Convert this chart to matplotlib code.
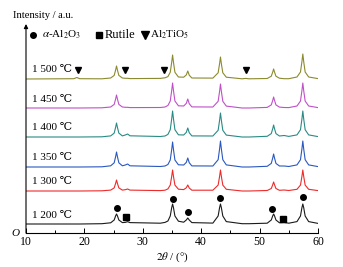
import matplotlib.pyplot as plt
import numpy as np

plt.rcParams['font.family'] = ['Liberation Serif', 'DejaVu Serif']
plt.rcParams['mathtext.fontset'] = 'stix'

# 2theta sample points (deg)
two_theta = [10.0, 18.2, 18.7, 19.2, 23.0,
             24.5, 25.1, 25.35, 25.5, 25.65, 25.9, 26.5, 27.0, 27.4, 27.8,
             33.0, 33.8, 34.3, 34.7, 34.95, 35.1, 35.25, 35.5, 36.1,
             37.0, 37.45, 37.7, 37.95, 38.4,
             42.0, 42.9, 43.15, 43.3, 43.45, 43.7, 44.3,
             47.0, 47.6, 48.2,
             51.3, 52.0, 52.25, 52.4, 52.55, 52.8, 53.4, 54.2, 55.0,
             56.4, 57.0, 57.25, 57.4, 57.55, 57.8, 58.4, 60.0]

# intensities (a.u.)
i_1200 = [0, 0, 0, 0, 0.3,
          1.2, 4, 8.2, 10, 8.2, 4, 1.4, 1.6, 2.3, 1.4,
          0.8, 1.6, 3, 8, 16.4, 20, 16.4, 8, 2.8,
          1.8, 4, 6, 4, 1.4,
          0.9, 8, 16.4, 20, 16.4, 8, 2.4,
          0.3, 0.3, 0.3,
          0.8, 4, 8.2, 10, 8.2, 4, 1.2, 1.5, 0.8,
          2.4, 8, 16.4, 20, 16.4, 8, 2.4, 0.6]
i_1300 = [0, 0, 0, 0, 0.2,
          0.9, 3.1, 7.7, 11, 7.7, 3.1, 0.9, 1.3, 2, 0.9,
          0.4, 0.8, 2.1, 5.9, 14.7, 21, 14.7, 5.9, 1.8,
          1.4, 3.2, 6, 3.0, 0.8,
          0.8, 5.9, 14.7, 21, 14.7, 5.9, 1.7,
          0, 0, 0,
          0.5, 2.5, 6.3, 9, 6.3, 2.5, 0.7, 1, 0.5,
          1.7, 5.9, 14.7, 21, 14.7, 5.9, 1.7, 0.4]
i_1350 = [0, 0, 0, 0, 0.2,
          1.2, 4.2, 10.5, 15, 10.5, 4.2, 1.2, 2, 3, 1.2,
          0.5, 1, 2.5, 7, 17.5, 25, 17.5, 7, 2.2,
          2, 4.6, 9, 4.3, 1.1,
          1, 7.3, 18.2, 26, 18.2, 7.3, 2.1,
          0, 0, 0,
          0.7, 3.6, 9.1, 13, 9.1, 3.6, 1, 1, 0.5,
          2.1, 7.3, 18.2, 26, 18.2, 7.3, 2.1, 0.4]
i_1400 = [0, 0, 0, 0, 0.2,
          1.1, 3.9, 9.8, 14, 9.8, 3.9, 1.1, 2, 3, 1.2,
          0.5, 1, 2.6, 7.3, 18.2, 26, 18.2, 7.3, 2.2,
          2, 4.6, 9, 4.3, 1.1,
          1, 6.7, 16.8, 24, 16.8, 6.7, 1.9,
          0, 0, 0,
          0.7, 3.4, 8.4, 12, 8.4, 3.4, 1, 1.5, 0.6,
          2.1, 7.3, 18.2, 26, 18.2, 7.3, 2.1, 0.4]
i_1450 = [0, 0, 0, 0, 0.2,
          1, 3.6, 9.1, 13, 9.1, 3.6, 1, 0.7, 0.7, 0.4,
          0.5, 1, 2.5, 7, 17.5, 25, 17.5, 7, 2.2,
          2, 4.6, 9, 4.3, 1.1,
          1, 6.7, 16.8, 24, 16.8, 6.7, 1.9,
          0, 0, 0,
          0.6, 3.1, 7.7, 11, 7.7, 3.1, 0.9, 0.5, 0.4,
          2, 7, 17.5, 25, 17.5, 7, 2, 0.4]
i_1500 = [0, 0.3, 1.5, 0.3, 0.2,
          1, 3.6, 9.1, 13, 9.1, 3.6, 1, 0.7, 0.7, 0.4,
          0.6, 1.2, 2.4, 6.7, 16.8, 24, 16.8, 6.7, 2,
          1.8, 4.1, 8, 3.8, 1,
          0.9, 6.2, 15.4, 22, 15.4, 6.2, 1.8,
          0.2, 0.6, 0.2,
          0.5, 2.8, 7, 10, 7, 2.8, 0.8, 0.3, 0.3,
          2, 7, 17.5, 25, 17.5, 7, 2, 0.4]

labels = ['1 200 ℃', '1 300 ℃', '1 350 ℃', '1 400 ℃', '1 450 ℃', '1 500 ℃']
series = [i_1200, i_1300, i_1350, i_1400, i_1450, i_1500]
colors = ['#1a1a1a', '#ee2a2a', '#2a58c0', '#2a8a84', '#c050c8', '#8c8a2e']
offsets = [9, 42, 66, 96, 125, 154]

# phase markers
alumina_x = [25.5, 35.2, 37.8, 43.3, 52.2, 57.4]
alumina_y = [25, 34, 21, 35, 24, 36]
rutile_x = [27.2, 54.0]
rutile_y = [16, 14]
tialite_x = [18.9, 27.0, 33.7, 47.7]
tialite_y = [163, 163, 163, 163]

fig = plt.figure(figsize=(3.43, 2.67), dpi=100)
ax = fig.add_axes([26 / 343, 34 / 267, 292 / 343, 209 / 267])

for y, c, lab, off in zip(series, colors, labels, offsets):
    ax.plot(two_theta, np.array(y) + off, color=c, lw=0.8)
    ax.text(11.1, off + 9, lab, fontsize=8, va='center', ha='left')

ax.plot(alumina_x, alumina_y, 'o', color='k', ms=4)
ax.plot(rutile_x, rutile_y, 's', color='k', ms=3.8)
ax.plot(tialite_x, tialite_y, 'v', color='k', ms=5)

# legend row
ax.plot([11.2], [198], 'o', color='k', ms=4, clip_on=False)
ax.text(12.7, 198, r'$\alpha$-Al$_2$O$_3$', fontsize=8, va='center')
ax.plot([22.5], [198], 's', color='k', ms=4.2, clip_on=False)
ax.text(23.4, 198, 'Rutile', fontsize=9, va='center')
ax.plot([30.4], [198], 'v', color='k', ms=5.5, clip_on=False)
ax.text(31.3, 198, r'Al$_2$TiO$_5$', fontsize=8, va='center')

ax.set_xlim(10, 60)
ax.set_ylim(0, 209)
ax.set_xticks([10, 20, 30, 40, 50, 60])
ax.set_xticks(np.arange(15, 60, 10), minor=True)
ax.tick_params(axis='x', which='major', direction='in', length=3.5, width=0.7,
               labelsize=8.5, pad=2.5)
ax.tick_params(axis='x', which='minor', direction='in', length=2, width=0.7)
ax.set_yticks([])
for s in ['top', 'right']:
    ax.spines[s].set_visible(False)
ax.spines['left'].set_visible(False)
ax.spines['bottom'].set_linewidth(0.8)
ax.annotate('', xy=(10, 209), xytext=(10, 0), xycoords='data',
            arrowprops=dict(arrowstyle='-|>', color='k', lw=0.8,
                            mutation_scale=6, shrinkA=0, shrinkB=0),
            annotation_clip=False)

fig.text(13 / 343, 1 - 15 / 267, 'Intensity / a.u.', fontsize=7.6, va='center', ha='left')
fig.text(15 / 343, 1 - 234 / 267, 'O', fontsize=8, style='italic', va='center', ha='center')
fig.text(172 / 343, 1 - 257 / 267, r'$2\theta$ / (°)', fontsize=8, va='center', ha='center')

fig.savefig('out.png', dpi=100)
